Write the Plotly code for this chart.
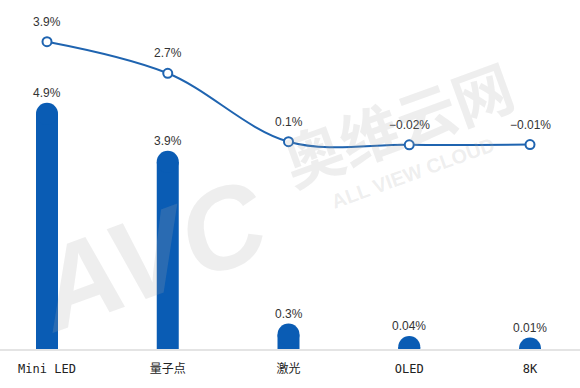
import plotly.graph_objects as go

categories = ["Mini LED", "量子点", "激光", "OLED", "8K"]
bar_values = [4.9, 3.9, 0.3, 0.04, 0.01]
bar_labels = ["4.9%", "3.9%", "0.3%", "0.04%", "0.01%"]
line_values = [3.9, 2.7, 0.1, -0.02, -0.01]
line_labels = ["3.9%", "2.7%", "0.1%", "-0.02%", "-0.01%"]

BAR_COLOR = "#0a5cb4"
LINE_COLOR = "#1f64b0"
W, H = 580, 388
PLOT_H = 349
PX_PER_UNIT = 120.75

fig = go.Figure()

# bar bodies
fig.add_trace(go.Bar(
    x=categories, y=bar_values, width=22 / PX_PER_UNIT,
    marker=dict(color=BAR_COLOR, line=dict(width=0)),
    hoverinfo="skip", yaxis="y",
))
# rounded caps
fig.add_trace(go.Scatter(
    x=categories, y=bar_values, mode="markers",
    marker=dict(size=22, color=BAR_COLOR, line=dict(width=0)),
    cliponaxis=True, hoverinfo="skip", yaxis="y",
))
# line series
fig.add_trace(go.Scatter(
    x=categories, y=line_values, mode="lines+markers",
    line=dict(color=LINE_COLOR, width=2, shape="spline", smoothing=1.0),
    marker=dict(size=9, color="white", line=dict(color=LINE_COLOR, width=2)),
    hoverinfo="skip", yaxis="y2", cliponaxis=False,
))

annotations = []
for c, v, t in zip(categories, bar_values, bar_labels):
    annotations.append(dict(x=c, y=v, xref="x", yref="y", text=t, showarrow=False,
                            yshift=21, font=dict(size=12, color="#333333",
                                                 family="Liberation Sans, Arial, sans-serif")))
for c, v, t in zip(categories, line_values, line_labels):
    annotations.append(dict(x=c, y=v, xref="x", yref="y2", text=t.replace("-", "−"),
                            showarrow=False, yshift=20,
                            font=dict(size=12, color="#333333",
                                      family="Liberation Sans, Arial, sans-serif")))

# faint watermark (pixel positions)
wm = "rgba(170,170,170,0.2)"
watermark = [
    (150, 255, "<b><i>AVC</i></b>", 115, "Liberation Sans, Arial"),
    (397, 122, "<b>奥维云网</b>", 60, "Noto Sans CJK SC"),
    (413, 173, "<b>ALL VIEW CLOUD</b>", 20, "Liberation Sans, Arial"),
]
for px, py, txt, fs, fam in watermark:
    annotations.append(dict(
        x=px / W, y=(H - py - (H - PLOT_H)) / PLOT_H, xref="paper", yref="paper",
        text=txt, showarrow=False, textangle=-20,
        font=dict(size=fs, color=wm, family=fam), xanchor="center", yanchor="middle"))

fig.update_layout(
    width=W, height=H,
    margin=dict(l=0, r=0, t=0, b=H - PLOT_H, pad=0),
    paper_bgcolor="white", plot_bgcolor="white",
    showlegend=False,
    xaxis=dict(type="category", range=[-47 / PX_PER_UNIT, (W - 47) / PX_PER_UNIT],
               showgrid=False, zeroline=False, showline=True, linecolor="#e4e4e4", linewidth=2,
               ticks="", ticklabelstandoff=8,
               tickfont=dict(size=12, color="#222222",
                             family="DejaVu Sans Mono, Noto Sans CJK SC, monospace")),
    yaxis=dict(range=[0, PLOT_H / 48.0], visible=False, showgrid=False, zeroline=False),
    yaxis2=dict(range=[-(PLOT_H - 144.3) / 26.3, 144.3 / 26.3], overlaying="y", side="right",
                visible=False, showgrid=False, zeroline=False),
    annotations=annotations,
)

fig.write_html("out.html", config={"displayModeBar": False},
               post_script="document.body.style.margin='0';document.body.style.overflow='hidden';")
